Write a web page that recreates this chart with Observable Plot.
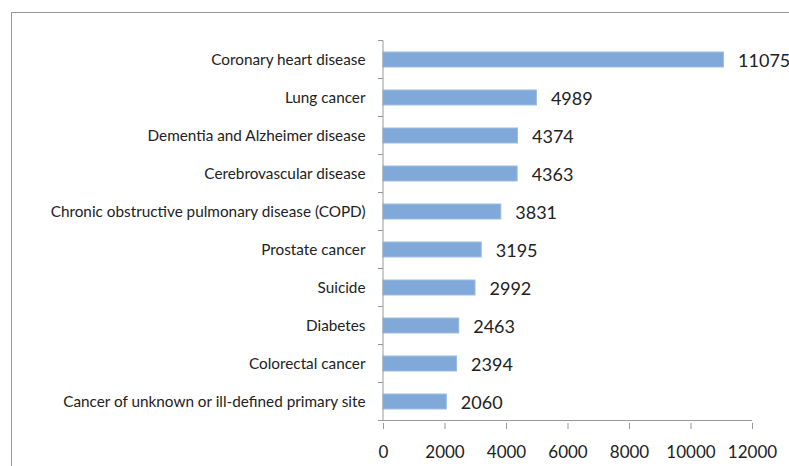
<!DOCTYPE html>
<html>
<head>
<meta charset="utf-8">
<script src="https://cdn.jsdelivr.net/npm/d3@7"></script>
<script src="https://cdn.jsdelivr.net/npm/@observablehq/plot@0.6"></script>
<style>
  html, body { margin: 0; padding: 0; background: #fff; overflow: hidden; }
  #wrap { position: relative; width: 789px; height: 466px; }
  #frame { position: absolute; left: 11px; top: 12px; width: 900px; height: 600px; border: 1px solid #999; box-sizing: border-box; }
  #chart { position: absolute; left: 0; top: 0; }
</style>
</head>
<body>
<div id="wrap"><div id="frame"></div><div id="chart"></div></div>
<script>
const categories = [
  "Coronary heart disease",
  "Lung cancer",
  "Dementia and Alzheimer disease",
  "Cerebrovascular disease",
  "Chronic obstructive pulmonary disease (COPD)",
  "Prostate cancer",
  "Suicide",
  "Diabetes",
  "Colorectal cancer",
  "Cancer of unknown or ill-defined primary site"
];
const values = [11075, 4989, 4374, 4363, 3831, 3195, 2992, 2463, 2394, 2060];
const xTicks = [0, 2000, 4000, 6000, 8000, 10000, 12000];

const data = categories.map((c, i) => ({category: c, value: values[i]}));

const chart = Plot.plot({
  width: 789,
  height: 466,
  marginLeft: 383,
  marginRight: 37,
  marginTop: 38,
  marginBottom: 43,
  style: {fontFamily: "Lato, sans-serif", fontSize: "15.3px", color: "#222", background: "transparent"},
  x: {domain: [0, 12000], ticks: xTicks, tickFormat: d => String(d), label: null},
  y: {domain: categories, label: null, paddingInner: 0.61, paddingOuter: 0.305},
  marks: [
    Plot.barX(data, {x: "value", y: "category", fill: "#80a9da", stroke: "#9dbde3", strokeWidth: 1}),
    Plot.text(data, {x: "value", y: "category", text: d => String(d.value), textAnchor: "start", dx: 14, dy: 1, fontSize: 18, fill: "#222"}),
    Plot.axisX({ticks: xTicks, tickFormat: d => String(d), tickSize: 6, tickPadding: 16, fontSize: 17, stroke: "#999", fill: "#222", label: null}),
    Plot.axisY({tickSize: 0, tickPadding: 18, fontSize: 15.3, fill: "#222", label: null})
  ]
});
document.getElementById("chart").appendChild(chart);

// axis lines and category-boundary ticks drawn from scales
const xs = chart.scale("x"), ys = chart.scale("y");
const svg = d3.select(chart);
const x0 = xs.apply(0), x1 = xs.apply(12000);
const step = ys.step;
const yTop = ys.apply(categories[0]) - (step - ys.bandwidth) / 2;
const yBot = ys.apply(categories[categories.length - 1]) + ys.bandwidth + (step - ys.bandwidth) / 2;
const g = svg.append("g").attr("stroke", "#999").attr("fill", "none");
g.append("line").attr("x1", x0).attr("x2", x0).attr("y1", yTop).attr("y2", yBot);
g.append("line").attr("x1", x0).attr("x2", x1).attr("y1", yBot).attr("y2", yBot);
for (let i = 0; i <= categories.length; i++) {
  const y = yTop + i * step;
  g.append("line").attr("x1", x0 - 5).attr("x2", x0).attr("y1", y).attr("y2", y);
}
</script>
</body>
</html>
